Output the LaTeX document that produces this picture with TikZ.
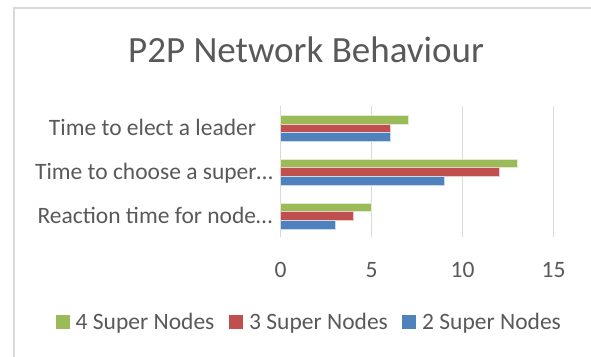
\documentclass[tikz,border=0pt]{standalone}
\usepackage{fontspec}
\setmainfont{Carlito}
\definecolor{txt}{HTML}{595959}
\definecolor{grid}{HTML}{D9D9D9}
\definecolor{cblue}{HTML}{4F81BD}
\definecolor{cred}{HTML}{C0504D}
\definecolor{cgreen}{HTML}{9BBB59}
\begin{document}
\begin{tikzpicture}[x=1pt,y=-1pt,
  lbl/.style={text=txt,font=\fontsize{23.5}{23.5}\selectfont,inner sep=0pt,anchor=base},
  gridline/.style={draw=grid,line width=1.3pt},
  bar/.style={draw=white!70!#1,line width=0.4pt,fill=#1}]
\useasboundingbox (0,0) rectangle (591,356);
\fill[white] (0,0) rectangle (591,356);
% chart border
\draw[grid,line width=1.5pt] (14,360) -- (14,8) -- (595,8);
% title
\node[text=txt,font=\fontsize{37}{37}\selectfont,inner sep=0pt,anchor=base] (title) at (306,62) {P2P Network Behaviour};
% gridlines and tick labels
\foreach \v/\n in {0/t0,5/t5,10/t10,15/t15}{
  \coordinate (g\n) at ({280.5+18.2*\v},106);
  \coordinate (b\n) at ({280.5+18.2*\v},237);
  \draw[gridline] (g\n) -- (b\n);
  \node[lbl] (\n) at ({280.5+18.2*\v},277.5) {\v};
}
% bars
\def\bh{8.7}
\foreach \g/\yy/\vg/\vr/\vb in {1/115/7/6/6, 2/158.7/13/12/9, 3/202.7/5/4/3}{
  \draw[bar=cgreen] (280.5,\yy) rectangle ++({18.2*\vg},\bh);
  \draw[bar=cred] (280.5,\yy+\bh) rectangle ++({18.2*\vr},\bh);
  \draw[bar=cblue] (280.5,\yy+2*\bh) rectangle ++({18.2*\vb},\bh);
}
% category labels
\node[lbl] (c1) at (152.5,135.5) {Time to elect a leader};
\node[lbl] (c2) at (154,179.3) {Time to choose a super…};
\node[lbl] (c3) at (155,223) {Reaction time for node…};
% legend
\fill[cgreen] (56,315) rectangle ++(14,14);
\node[lbl,anchor=base west] (l1) at (75.5,329) {4 Super Nodes};
\fill[cred] (229,315) rectangle ++(14,14);
\node[lbl,anchor=base west] (l2) at (249,329) {3 Super Nodes};
\fill[cblue] (402,315) rectangle ++(14,14);
\node[lbl,anchor=base west] (l3) at (422,329) {2 Super Nodes};
\end{tikzpicture}
\end{document}
